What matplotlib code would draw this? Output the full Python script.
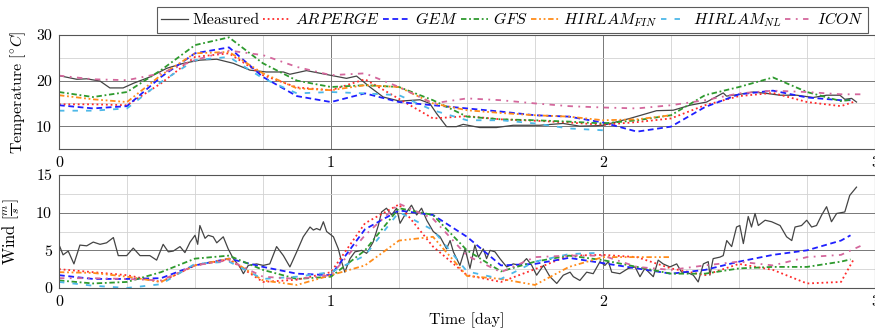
import numpy as np
import matplotlib
matplotlib.use("Agg")
import matplotlib.pyplot as plt
from matplotlib.ticker import MultipleLocator

plt.rcParams['font.family'] = 'serif'
plt.rcParams['font.serif'] = ['cmr10']
plt.rcParams['mathtext.fontset'] = 'cm'
plt.rcParams['axes.unicode_minus'] = False
plt.rcParams['font.size'] = 11.5

# --- data ---------------------------------------------------------------
# model forecasts, 3-hourly (time in days)
t_model = np.arange(24) * 0.125

arperge_T = [14.8, 14.8, 14.6, 19.4, 25.2, 26.0, 21.2, 18.5, 17.9, 20.3, 16.0, 11.7,
             12.2, 11.5, 11.2, 10.8, 10.3, 10.9, 11.7, 14.6, 16.6, 17.3, 15.3, 14.4, 15.3]
gem_T = [14.6, 13.9, 14.4, 20.8, 26.0, 27.3, 20.8, 16.6, 15.3, 17.2, 15.3, 14.6,
         13.9, 13.2, 12.4, 12.1, 10.8, 8.8, 9.9, 14.2, 17.0, 17.8, 16.3, 15.7, 15.7]
gfs_T = [17.5, 16.4, 17.5, 22.3, 27.8, 29.5, 23.8, 20.0, 18.6, 19.0, 18.6, 15.7,
         12.1, 11.5, 11.3, 11.0, 10.6, 11.3, 12.4, 16.8, 18.6, 20.7, 17.5, 15.5, 15.8]
hirlam_fin_T = [16.8, 15.9, 15.3, 21.2, 26.0, 26.3, 21.6, 18.3, 17.9, 19.0, 18.6, 15.0,
                13.5, 12.9, 12.4, 12.1, 11.3, 11.5, 12.4]
hirlam_nl_T = [13.4, 13.4, 13.9, 19.7, 24.5, 25.2, 20.5, 17.2, 17.5, 17.2, 16.8, 13.5,
               11.3, 11.3, 10.6, 9.5, 9.1]
icon_T = [21.1, 20.3, 20.1, 21.6, 24.5, 26.6, 25.6, 23.0, 21.2, 21.6, 18.6, 15.0,
          16.1, 15.7, 15.0, 14.4, 14.1, 13.9, 14.6, 15.7, 17.2, 17.8, 17.5, 17.0, 17.0]

arperge_W = [2.5, 2.1, 1.7, 0.8, 3.0, 3.8, 0.8, 1.1, 2.1, 8.6, 11.1, 5.5,
             1.7, 0.8, 2.5, 4.3, 4.4, 4.1, 2.6, 1.7, 3.2, 2.4, 0.6, 0.8, 3.7]
gem_W = [1.7, 1.2, 1.2, 1.3, 3.0, 3.9, 2.8, 1.9, 1.7, 7.8, 10.3, 9.7,
         6.8, 3.0, 3.2, 4.0, 3.3, 2.6, 1.9, 2.4, 3.5, 4.4, 5.0, 6.3, 7.0]
gfs_W = [1.0, 0.6, 0.8, 2.1, 3.9, 4.3, 2.4, 1.2, 1.5, 5.0, 10.6, 9.7,
         5.0, 2.2, 3.5, 4.3, 3.7, 2.8, 1.9, 1.9, 2.6, 2.8, 2.8, 3.5, 3.8]
hirlam_fin_W = [2.1, 2.0, 1.5, 0.8, 3.0, 3.9, 1.0, 0.4, 1.7, 3.0, 6.3, 6.8,
                1.6, 1.2, 0.4, 2.8, 4.1, 4.1, 4.1]
hirlam_nl_W = [0.8, 0.3, 0.0, 0.5, 3.2, 3.5, 1.2, 1.5, 2.1, 4.3, 10.1, 7.7,
               2.2, 1.2, 3.5, 4.5, 4.7]
icon_W = [1.3, 1.3, 1.2, 1.0, 3.0, 3.7, 1.5, 1.2, 1.7, 7.0, 11.2, 9.2,
          4.3, 2.1, 4.1, 4.3, 4.3, 2.8, 2.4, 3.0, 3.5, 3.0, 4.1, 4.4, 5.8]

# last point of the longer runs
t_end = {'arperge': 2.92, 'gem': 2.91, 'gfs': 2.91, 'icon': 2.96}

# measured temperature
t_meas_T = [0.0, 0.065, 0.102, 0.151, 0.187, 0.236, 0.273, 0.334, 0.396, 0.457, 0.518,
            0.58, 0.641, 0.702, 0.763, 0.825, 0.849, 0.91, 0.996, 1.057, 1.094, 1.143,
            1.192, 1.253, 1.327, 1.363, 1.388, 1.425, 1.461, 1.486, 1.547, 1.608, 1.67,
            1.768, 1.853, 1.915, 1.976, 2.001, 2.099, 2.197, 2.258, 2.32, 2.381, 2.442,
            2.454, 2.503, 2.552, 2.601, 2.65, 2.712, 2.773, 2.822, 2.871, 2.889, 2.914, 2.932]
meas_T = [21.1, 20.3, 20.4, 19.9, 18.4, 18.4, 19.4, 20.8, 22.7, 23.8, 24.5,
          24.7, 23.8, 22.3, 21.9, 21.9, 21.4, 22.2, 21.2, 20.5, 21.0, 18.6,
          16.4, 15.5, 15.8, 15.0, 12.8, 9.9, 9.9, 10.4, 9.7, 9.7, 10.2,
          10.2, 10.6, 10.0, 10.1, 10.2, 11.7, 13.4, 13.5, 14.6, 15.3, 17.3,
          16.6, 17.0, 17.5, 17.2, 16.8, 16.8, 16.3, 16.8, 16.8, 15.9, 16.1, 15.3]

# measured wind
t_meas_W = [0.003, 0.015, 0.034, 0.055, 0.077, 0.102, 0.126, 0.151, 0.175, 0.2, 0.218,
            0.249, 0.273, 0.298, 0.334, 0.359, 0.383, 0.402, 0.42, 0.445, 0.463, 0.482,
            0.5, 0.51, 0.518, 0.537, 0.549, 0.567, 0.58, 0.604, 0.622, 0.641, 0.665,
            0.678, 0.696, 0.726, 0.751, 0.775, 0.8, 0.825, 0.849, 0.874, 0.898, 0.923,
            0.935, 0.947, 0.96, 0.972, 0.984, 1.009, 1.027, 1.039, 1.051, 1.07, 1.088,
            1.113, 1.131, 1.155, 1.174, 1.186, 1.204, 1.223, 1.241, 1.254, 1.278, 1.296,
            1.315, 1.333, 1.352, 1.376, 1.401, 1.425, 1.438, 1.45, 1.474, 1.493, 1.511,
            1.529, 1.542, 1.56, 1.572, 1.585, 1.603, 1.621, 1.646, 1.67, 1.695, 1.719,
            1.738, 1.756, 1.781, 1.805, 1.83, 1.854, 1.879, 1.891, 1.915, 1.94, 1.964,
            1.989, 2.007, 2.02, 2.032, 2.062, 2.093, 2.118, 2.136, 2.154, 2.185, 2.203,
            2.221, 2.246, 2.271, 2.289, 2.307, 2.332, 2.35, 2.369, 2.387, 2.393, 2.405,
            2.43, 2.442, 2.455, 2.473, 2.491, 2.503, 2.516, 2.534, 2.546, 2.559, 2.571,
            2.596, 2.62, 2.651, 2.675, 2.694, 2.706, 2.73, 2.749, 2.767, 2.785, 2.804,
            2.822, 2.84, 2.859, 2.889, 2.907, 2.932]
meas_W = [5.5, 4.4, 4.9, 3.2, 5.7, 5.6, 6.1, 5.8, 6.0, 6.7, 4.3,
          4.3, 5.3, 4.3, 4.3, 3.7, 5.8, 4.8, 4.9, 5.5, 4.7, 6.1,
          7.0, 5.8, 8.3, 6.6, 7.0, 6.8, 6.0, 6.8, 5.2, 3.9, 2.8,
          1.9, 3.0, 3.2, 3.0, 3.2, 5.5, 4.3, 2.8, 4.8, 6.8, 8.1,
          7.7, 7.9, 7.7, 8.8, 7.5, 6.8, 5.2, 3.5, 2.1, 3.9, 4.8,
          5.0, 4.6, 6.1, 8.3, 10.1, 10.6, 9.7, 10.6, 8.6, 10.1, 11.0,
          9.7, 10.6, 9.0, 7.5, 6.8, 5.2, 6.3, 4.8, 3.0, 5.2, 2.6,
          5.7, 4.1, 5.2, 3.9, 5.0, 4.8, 3.9, 2.8, 3.2, 3.0, 3.9,
          3.0, 1.7, 3.0, 1.5, 0.6, 1.7, 2.1, 1.5, 1.0, 2.1, 1.9,
          3.5, 3.0, 3.5, 2.1, 1.9, 2.6, 2.8, 1.5, 2.6, 1.5, 3.7,
          3.2, 2.8, 3.2, 2.1, 2.1, 1.7, 0.8, 3.2, 3.5, 1.7, 3.9,
          4.1, 4.3, 6.3, 5.5, 8.1, 8.3, 5.9, 9.5, 8.1, 9.9, 8.3,
          9.0, 8.8, 8.3, 6.8, 6.3, 8.1, 8.3, 9.0, 8.1, 8.3, 9.7,
          10.8, 8.8, 9.9, 10.1, 12.3, 13.4]


def model_t(vals, key=None):
    # times for a model run; longer runs get one extra end point
    n = len(vals)
    if key is not None and n == 25:
        return list(t_model) + [t_end[key]]
    return list(t_model[:n])


styles = [
    ('arperge', r'$ARPERGE$', '#ff2a2a', (0, (1, 1.6)), arperge_T, arperge_W),
    ('gem', r'$GEM$', '#1f1fff', (0, (3.2, 2)), gem_T, gem_W),
    ('gfs', r'$GFS$', '#2e9a2e', (0, (3, 1.5, 1, 1.5)), gfs_T, gfs_W),
    ('hirlam_fin', r'$HIRLAM_{FIN}$', '#ff8c1a', (0, (3, 1.5, 1, 1.5, 1, 1.5)), hirlam_fin_T, hirlam_fin_W),
    ('hirlam_nl', r'$HIRLAM_{NL}$', '#4db8e8', (0, (3, 4.5)), hirlam_nl_T, hirlam_nl_W),
    ('icon', r'$ICON$', '#d4679c', (0, (3, 3, 1, 3)), icon_T, icon_W),
]

fig = plt.figure(figsize=(8.75, 3.31), dpi=100)
ax1 = fig.add_axes([0.0674, 0.550, 0.9326, 0.344])
ax2 = fig.add_axes([0.0674, 0.130, 0.9326, 0.341])

ax1.plot(t_meas_T, meas_T, color='#444444', lw=0.9, label='Measured')
ax2.plot(t_meas_W, meas_W, color='#444444', lw=0.9)
for key, lab, col, ls, vT, vW in styles:
    k = key if key in t_end else None
    ax1.plot(model_t(vT, k), vT, color=col, ls=ls, lw=1.3, label=lab)
    ax2.plot(model_t(vW, k), vW, color=col, ls=ls, lw=1.3)

for ax in (ax1, ax2):
    ax.set_xlim(0, 3)
    ax.xaxis.set_major_locator(MultipleLocator(1))
    ax.xaxis.set_minor_locator(MultipleLocator(0.25))
    ax.grid(which='major', color='#777777', lw=0.7)
    ax.grid(which='minor', color='#d2d2d2', lw=0.6)
    ax.set_axisbelow(True)
    ax.tick_params(which='both', length=0, pad=5)
    for s in ax.spines.values():
        s.set_color('#555555')
        s.set_linewidth(0.8)

ax1.set_ylim(5, 30)
ax1.yaxis.set_major_locator(MultipleLocator(10))
ax1.yaxis.set_minor_locator(MultipleLocator(5))
ax1.set_ylabel(r'Temperature $[^{\circ}C]$', labelpad=6)

ax2.set_ylim(0, 15)
ax2.yaxis.set_major_locator(MultipleLocator(5))
ax2.yaxis.set_minor_locator(MultipleLocator(2.5))
ax2.set_ylabel(r'Wind $\left[\frac{m}{s}\right]$', labelpad=10, fontsize=12)
ax2.set_xlabel('Time [day]', labelpad=3)

leg = ax1.legend(loc='lower right', bbox_to_anchor=(0.992, 0.900),
                 bbox_transform=fig.transFigure, ncol=7, fontsize=11.5,
                 frameon=True, fancybox=False, edgecolor='#333333',
                 handlelength=1.7, handletextpad=0.3, columnspacing=0.2,
                 borderpad=0.25, borderaxespad=0)
leg.get_frame().set_linewidth(0.8)

fig.savefig('out.png', dpi=100)
